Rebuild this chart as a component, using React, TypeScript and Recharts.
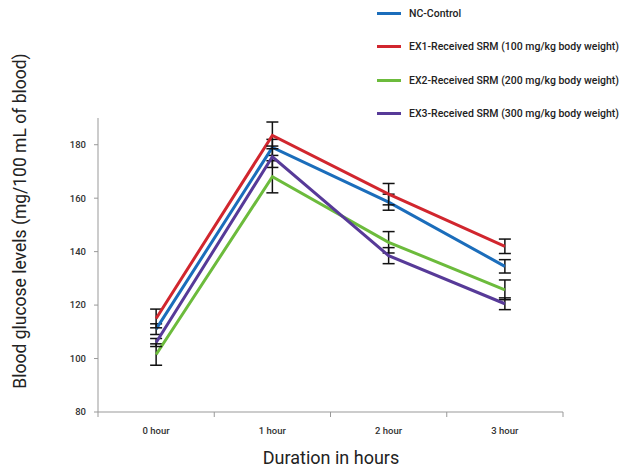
import React from 'react';
import { LineChart, Line, XAxis, YAxis, ErrorBar, Label } from 'recharts';

const hours = ['0 hour', '1 hour', '2 hour', '3 hour'];
const yTicks = [80, 100, 120, 140, 160, 180];

const ncControl = [111, 179, 158.5, 134.5];
const ncErr = [2, 3, 3, 2.5];
const ex1 = [115, 183.5, 161.5, 142];
const ex1Err = [3.5, 5, 4, 2.7];
const ex2 = [101.5, 168, 143.5, 125.7];
const ex2Err = [4, 6, 4, 3.7];
const ex3 = [106, 175.5, 138.5, 120.5];
const ex3Err = [1.5, 4, 3, 2.2];

const series = [
    { key: 'nc', name: 'NC-Control', color: '#1b6dbb', values: ncControl, err: ncErr },
    { key: 'ex1', name: 'EX1-Received SRM (100 mg/kg body weight)', color: '#d1262e', values: ex1, err: ex1Err },
    { key: 'ex2', name: 'EX2-Received SRM (200 mg/kg body weight)', color: '#6cbb3c', values: ex2, err: ex2Err },
    { key: 'ex3', name: 'EX3-Received SRM (300 mg/kg body weight)', color: '#573a98', values: ex3, err: ex3Err },
];

const data = hours.map((h, i) => {
    const row: any = { x: i, label: h };
    series.forEach((s) => {
        row[s.key] = s.values[i];
        row[s.key + 'Err'] = s.err[i];
    });
    return row;
});

const font = 'Roboto, "DejaVu Sans", sans-serif';

const XTick = (props: any) => {
    const { x, y, payload } = props;
    const v = payload.value;
    if (Number.isInteger(v)) {
        return (
            <text x={x} y={y + 22} textAnchor="middle" fontSize={9.5} fontWeight={500} fill="#333" fontFamily={font}>
                {hours[v]}
            </text>
        );
    }
    return <line x1={x} x2={x} y1={y} y2={y + 5} stroke="#999" strokeWidth={1} />;
};

export default function App() {
    return (
        <div style={{ position: 'absolute', left: 0, top: 0, width: 620, height: 468, background: '#fff', fontFamily: font }}>
            <LineChart width={620} height={468} data={data} margin={{ top: 118, right: 57, bottom: 26, left: 38 }}>
                <XAxis
                    dataKey="x"
                    type="number"
                    domain={[-0.5, 3.5]}
                    ticks={[-0.5, 0, 0.5, 1, 1.5, 2, 2.5, 3, 3.5]}
                    interval={0}
                    height={30}
                    stroke="#999"
                    tickLine={false}
                    tickSize={0}
                    tickMargin={0}
                    tick={<XTick />}
                >
                    <Label
                        content={() => (
                            <text x={331} y={464} textAnchor="middle" fontSize={18} fontWeight={400} fill="#222" fontFamily={font}>
                                Duration in hours
                            </text>
                        )}
                    />
                </XAxis>
                <YAxis
                    type="number"
                    domain={[80, 190]}
                    ticks={yTicks}
                    interval={0}
                    width={60}
                    stroke="#999"
                    tickSize={4}
                    tickMargin={8}
                    tick={{ fontSize: 9.5, fontWeight: 500, fill: '#333', fontFamily: font }}
                >
                    <Label
                        content={() => (
                            <text
                                x={26}
                                y={221}
                                transform="rotate(-90 26 221)"
                                textAnchor="middle"
                                fontSize={17.5}
                                fontWeight={400}
                                fill="#222"
                                fontFamily={font}
                            >
                                Blood glucose levels (mg/100 mL of blood)
                            </text>
                        )}
                    />
                </YAxis>
                {series.map((s) => (
                    <Line
                        key={s.key}
                        dataKey={s.key}
                        name={s.name}
                        stroke={s.color}
                        strokeWidth={3}
                        dot={false}
                        activeDot={false}
                        isAnimationActive={false}
                    >
                        <ErrorBar dataKey={s.key + 'Err'} width={6} stroke="#111" strokeWidth={1.5} direction="y" />
                    </Line>
                ))}
            </LineChart>
            <div style={{ position: 'absolute', left: 377, top: -3 }}>
                {series.map((s) => (
                    <div key={s.key} style={{ display: 'flex', alignItems: 'center', height: 33.3 }}>
                        <div style={{ width: 24, height: 3, background: s.color, marginRight: 8 }} />
                        <span style={{ fontSize: 10.5, fontWeight: 500, color: '#222', whiteSpace: 'nowrap' }}>{s.name}</span>
                    </div>
                ))}
            </div>
        </div>
    );
}
